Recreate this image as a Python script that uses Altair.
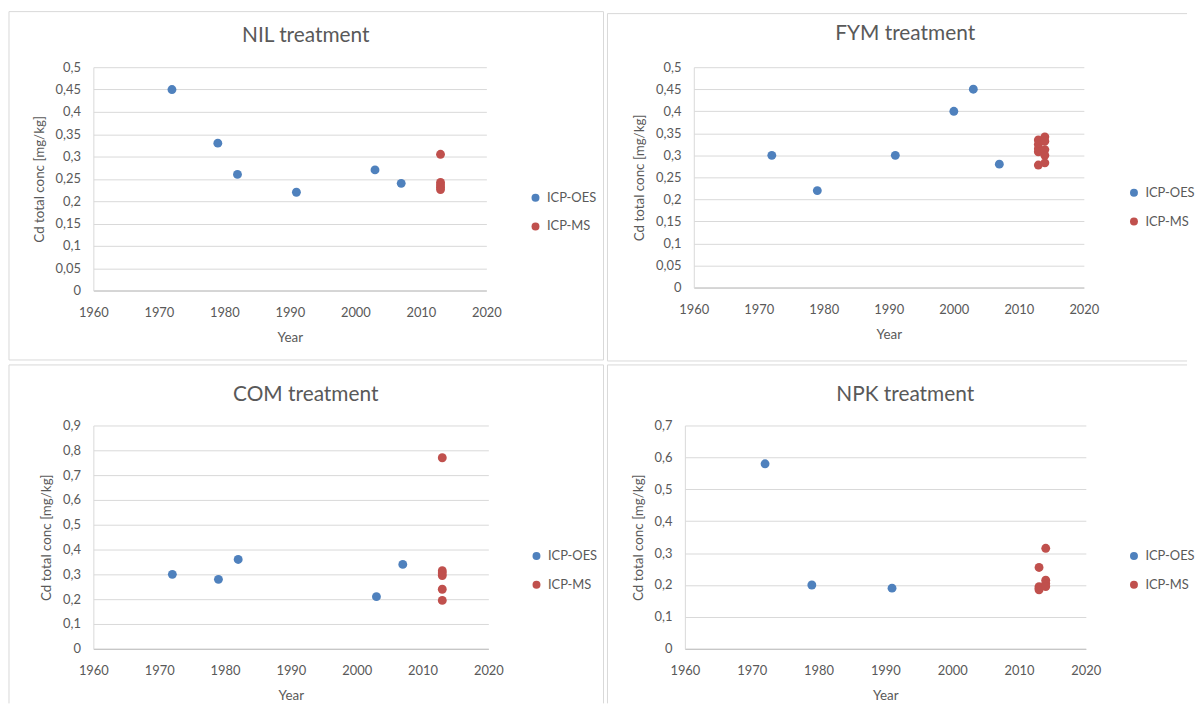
import altair as alt
import pandas as pd

# ---------------- data ----------------
panels = ["NIL", "FYM", "COM", "NPK"]
titles = ["NIL treatment", "FYM treatment", "COM treatment", "NPK treatment"]
methods = ["ICP-OES", "ICP-MS"]
colors = ["#4F81BD", "#C0504D"]

nil_oes_year = [1972, 1979, 1982, 1991, 2003, 2007]
nil_oes_val = [0.45, 0.33, 0.26, 0.22, 0.27, 0.24]
nil_ms_year = [2013, 2013, 2013, 2013, 2013]
nil_ms_val = [0.305, 0.242, 0.236, 0.231, 0.226]

fym_oes_year = [1972, 1979, 1991, 2000, 2003, 2007]
fym_oes_val = [0.30, 0.22, 0.30, 0.40, 0.45, 0.28]
fym_ms_year = [2013, 2013, 2013, 2013, 2013, 2014, 2014, 2014, 2014, 2014]
fym_ms_val = [0.335, 0.325, 0.315, 0.308, 0.278, 0.342, 0.332, 0.313, 0.300, 0.283]

com_oes_year = [1972, 1979, 1982, 2003, 2007]
com_oes_val = [0.30, 0.28, 0.36, 0.21, 0.34]
com_ms_year = [2013, 2013, 2013, 2013, 2013, 2013]
com_ms_val = [0.77, 0.315, 0.305, 0.295, 0.24, 0.195]

npk_oes_year = [1972, 1979, 1991]
npk_oes_val = [0.58, 0.20, 0.19]
npk_ms_year = [2013, 2013, 2013, 2013, 2014, 2014, 2014, 2014]
npk_ms_val = [0.255, 0.195, 0.19, 0.185, 0.315, 0.215, 0.205, 0.195]

x_ticks = [1960, 1970, 1980, 1990, 2000, 2010, 2020]
y_ticks_05 = [0, 0.05, 0.1, 0.15, 0.2, 0.25, 0.3, 0.35, 0.4, 0.45, 0.5]
y_ticks_09 = [0, 0.1, 0.2, 0.3, 0.4, 0.5, 0.6, 0.7, 0.8, 0.9]
y_ticks_07 = [0, 0.1, 0.2, 0.3, 0.4, 0.5, 0.6, 0.7]
y_ticks = [y_ticks_05, y_ticks_05, y_ticks_09, y_ticks_07]
y_max = [0.5, 0.5, 0.9, 0.7]

series = {
    "NIL": [(nil_oes_year, nil_oes_val), (nil_ms_year, nil_ms_val)],
    "FYM": [(fym_oes_year, fym_oes_val), (fym_ms_year, fym_ms_val)],
    "COM": [(com_oes_year, com_oes_val), (com_ms_year, com_ms_val)],
    "NPK": [(npk_oes_year, npk_oes_val), (npk_ms_year, npk_ms_val)],
}

rows = []
for p in panels:
    for m, (yrs, vals) in zip(methods, series[p]):
        for yr, v in zip(yrs, vals):
            rows.append({"panel": p, "year": yr, "value": v, "method": m})
df = pd.DataFrame(rows)

# ---------------- layout / style ----------------
TXT = "#595959"
FRAME = "#d9d9d9"
FONT = "Lato"

layout = [
    dict(w=396, h=225, fl=-85, ft=-56, fr=118, fb=70, lx=439, ly=125, tx=214, ty=-31,
         sides=["top", "left", "right", "bottom"]),
    dict(w=393, h=222, fl=-87, ft=-54, fr=104, fb=74, lx=437, ly=120, tx=213, ty=-33,
         sides=["top", "left", "bottom"]),
    dict(w=398, h=225, fl=-85, ft=-61, fr=116, fb=55, lx=440, ly=125, tx=214, ty=-31,
         sides=["top", "left", "right"]),
    dict(w=404, h=225, fl=-78, ft=-61, fr=102, fb=55, lx=446, ly=125, tx=222, ty=-31,
         sides=["top", "left"]),
]

one = pd.DataFrame({"k": [0]})


def frame_layers(L):
    w, h = L["w"], L["h"]
    x1, x2 = L["fl"], w + L["fr"]
    y1, y2 = L["ft"], h + L["fb"]
    out = []
    base = alt.Chart(one).mark_rule(color=FRAME, strokeWidth=1)
    for s in L["sides"]:
        if s == "top":
            out.append(base.encode(x=alt.value(x1), x2=alt.value(x2), y=alt.value(y1)))
        elif s == "bottom":
            out.append(base.encode(x=alt.value(x1), x2=alt.value(x2), y=alt.value(y2)))
        elif s == "left":
            out.append(base.encode(x=alt.value(x1), y=alt.value(y1), y2=alt.value(y2)))
        elif s == "right":
            out.append(base.encode(x=alt.value(x2), y=alt.value(y1), y2=alt.value(y2)))
    return out


def panel(i):
    L = layout[i]
    d = df[df.panel == panels[i]]
    pts = alt.Chart(d).mark_circle(size=80, opacity=1).encode(
        x=alt.X(
            "year:Q",
            scale=alt.Scale(domain=[1960, 2020], nice=False, zero=False),
            axis=alt.Axis(values=x_ticks, format="d", title="Year", grid=False,
                          domainColor="#bfbfbf", labelPadding=16, titlePadding=11,
                          labelFlush=False, labelOverlap=False),
        ),
        y=alt.Y(
            "value:Q",
            scale=alt.Scale(domain=[0, y_max[i]], nice=False),
            axis=alt.Axis(
                values=y_ticks[i],
                labelExpr="replace(format(datum.value, '~g'), '.', ',')",
                title="Cd total conc [mg/kg]",
                grid=True, gridColor=FRAME, domainColor=FRAME,
                labelPadding=13, titlePadding=9,
                labelFlush=False, labelOverlap=False,
            ),
        ),
        color=alt.Color(
            "method:N",
            scale=alt.Scale(domain=methods, range=colors),
            legend=alt.Legend(title=None, orient="none", legendX=L["lx"], legendY=L["ly"]),
        ),
    )
    ttl = alt.Chart(pd.DataFrame({"t": [titles[i]]})).mark_text(
        fontSize=21, color=TXT, font=FONT, align="center", baseline="middle"
    ).encode(text="t:N", x=alt.value(L["tx"]), y=alt.value(L["ty"]))
    return alt.layer(*frame_layers(L), pts, ttl).properties(width=L["w"], height=L["h"])


chart = (
    alt.concat(panel(0), panel(1), panel(2), panel(3), columns=2,
               spacing={"row": 2, "column": 2}, align="none", bounds="full")
    .resolve_scale(color="independent")
    .resolve_legend(color="independent")
    .properties(padding=0, background="white")
    .configure_view(stroke=None)
    .configure_axis(
        labelFont=FONT, titleFont=FONT, labelColor=TXT, titleColor=TXT,
        labelFontSize=13, titleFontSize=13.5, titleFontWeight="normal", ticks=False,
    )
    .configure_legend(
        labelFont=FONT, labelFontSize=13, labelColor=TXT, symbolSize=64,
        symbolType="circle", symbolOpacity=1, rowPadding=15, padding=0, labelOffset=5,
    )
)

chart.save("out.html", embed_options={"renderer": "svg", "actions": False})
